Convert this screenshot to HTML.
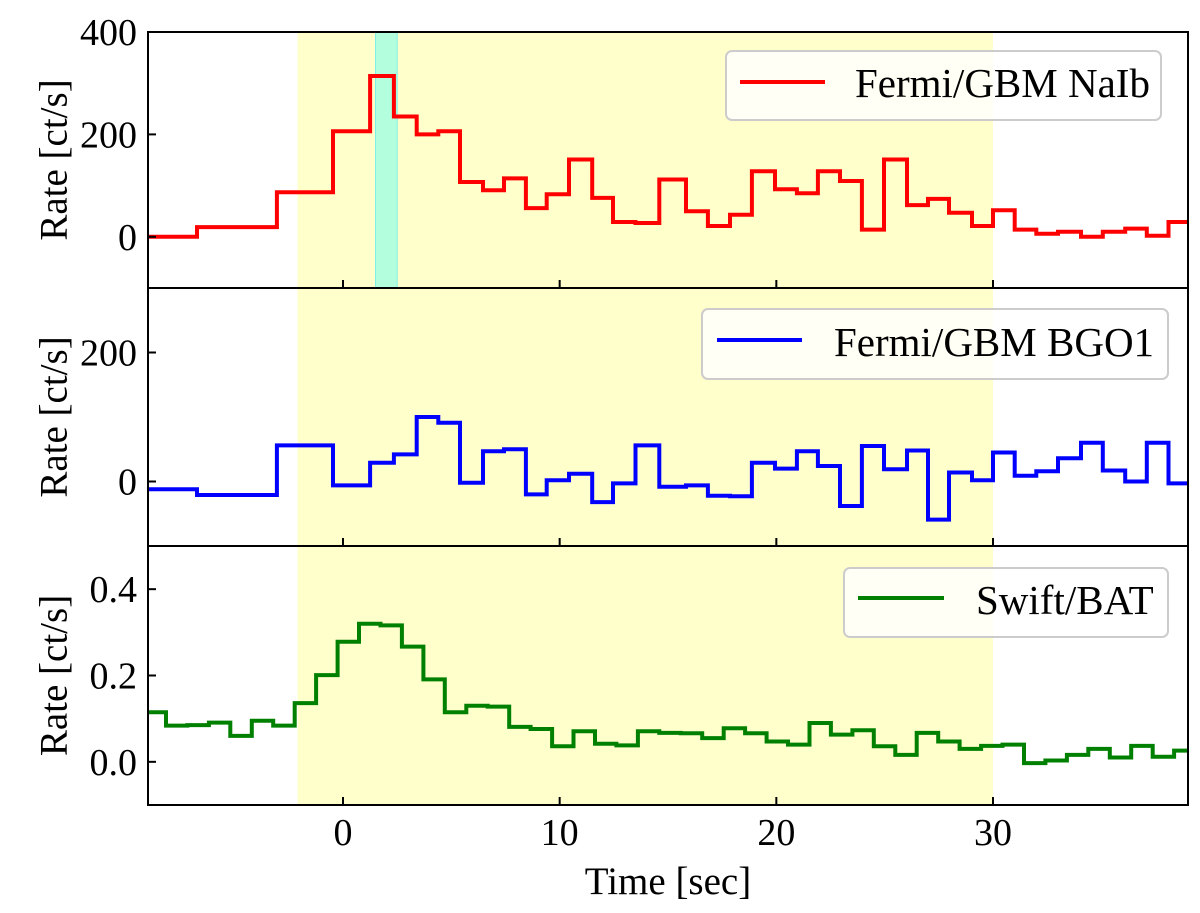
<!DOCTYPE html>
<html><head><meta charset="utf-8">
<style>
html,body{margin:0;padding:0;background:#fff;}
svg{display:block;font-family:"Liberation Serif","DejaVu Serif",serif;}
</style></head>
<body>
<svg id="chart" width="1200" height="913" viewBox="0 0 1200 913" xmlns="http://www.w3.org/2000/svg"></svg>
<script>
// ---- data ----
const gbmEdges = [-9,-6.74,-3.05,-0.46,1.25,2.35,3.4,4.4,5.4,6.46,7.43,8.44,9.4,10.43,11.5,12.46,13.5,14.6,15.83,16.84,17.86,18.87,19.94,20.95,21.92,22.94,23.95,24.97,26.03,27.0,27.97,29.03,30,31,32,33,34.06,35.07,36.1,37.1,38.1,39];
const naiRates = [0,19,87,206,314,235,200,206,107,91,114,56,83,151,76,29,27,112,50,21,43,128,93,85,128,109,14,151,62,74,47,21,52,14,6,10,0,10,16,2,29];
const bgoRates = [-12,-21,56,-6,29,42,100,91,-2,47,50,-20,2,12,-32,-3,56,-8,-6,-22,-23,29,20,47,24,-38,55,19,48,-59,14,2,45,9,16,36,60,17,0,60,-3];
const batEdges = [-9,-8.17,-7.18,-6.19,-5.2,-4.21,-3.22,-2.23,-1.24,-0.25,0.74,1.73,2.72,3.71,4.70,5.69,6.68,7.67,8.66,9.65,10.64,11.63,12.62,13.61,14.60,15.59,16.58,17.57,18.56,19.55,20.54,21.53,22.52,23.51,24.50,25.49,26.48,27.47,28.46,29.45,30.44,31.43,32.42,33.41,34.40,35.39,36.38,37.37,38.36,39];
const batRates = [0.115,0.084,0.085,0.091,0.060,0.095,0.084,0.136,0.201,0.278,0.320,0.316,0.267,0.191,0.115,0.130,0.128,0.081,0.076,0.036,0.071,0.042,0.038,0.071,0.067,0.066,0.055,0.078,0.066,0.047,0.040,0.090,0.063,0.073,0.036,0.016,0.067,0.047,0.030,0.037,0.040,-0.003,0.003,0.016,0.030,0.010,0.037,0.012,0.026];
const xTicks = [0,10,20,30];
const naiTicks = [0,200,400];
const bgoTicks = [0,200];
const batTicks = [0.0,0.2,0.4];
const batTickLabels = ["0.0","0.2","0.4"];
const yellowSpan = [-2.1,30];
const cyanSpan = [1.5,2.5];

// ---- layout ----
const svg = document.getElementById('chart');
const NS = 'http://www.w3.org/2000/svg';
const L = 148, R = 1188;
const xMin = -9, xMax = 39;
const X = t => L + (t - xMin) / (xMax - xMin) * (R - L);
const panels = [
  {top:32, bot:288, ymin:-100, ymax:400, edges:gbmEdges, vals:naiRates, color:'#ff0000', ticks:naiTicks, labels:naiTicks.map(String), name:'nai', legend:'Fermi/GBM NaIb', lg:{x:726,y:51,w:435,h:69,lx1:740,lx2:825,ly:82,tx:855,ty:95}},
  {top:288, bot:546, ymin:-100, ymax:300, edges:gbmEdges, vals:bgoRates, color:'#0000ff', ticks:bgoTicks, labels:bgoTicks.map(String), name:'bgo', legend:'Fermi/GBM BGO1', lg:{x:702,y:309,w:466,h:70,lx1:717,lx2:802,ly:340,tx:834,ty:354}},
  {top:546, bot:805, ymin:-0.1, ymax:0.5, edges:batEdges, vals:batRates, color:'#008000', ticks:batTicks, labels:batTickLabels, name:'bat', legend:'Swift/BAT', lg:{x:844,y:568,w:324,h:69,lx1:858,lx2:944,ly:598,tx:976,ty:612}}
];
function mk(tag, attrs, parent){const e=document.createElementNS(NS,tag);for(const k in attrs)e.setAttribute(k,attrs[k]);(parent||svg).appendChild(e);return e;}

panels.forEach((p,i)=>{
  const Y = v => p.bot - (v - p.ymin)/(p.ymax - p.ymin)*(p.bot - p.top);
  const g = mk('g',{});
  
  
  const ys = mk('rect',{x:X(yellowSpan[0]),y:p.top,width:X(yellowSpan[1])-X(yellowSpan[0]),height:p.bot-p.top,fill:'#ffffcc'},g);
  
  
  if(i===0){
    const cs = mk('rect',{x:X(cyanSpan[0]),y:p.top,width:X(cyanSpan[1])-X(cyanSpan[0]),height:p.bot-p.top,fill:'#b3ffdd',stroke:'#7ff0e8','stroke-width':1},g);
    
    
  }
  let d = '';
  p.vals.forEach((v,k)=>{
    const x0=X(p.edges[k]), x1=X(p.edges[k+1]), y=Y(v);
    d += (k===0?'M':'L') + x0.toFixed(1)+','+y.toFixed(1)+' L'+x1.toFixed(1)+','+y.toFixed(1)+' ';
  });
  const ln = mk('path',{d:d,fill:'none',stroke:p.color,'stroke-width':4,'stroke-linejoin':'miter'},g);
  
  
  p.ticks.forEach((t,k)=>{
    const y=Y(t);
    mk('line',{x1:L,x2:L+8,y1:y,y2:y,stroke:'#000','stroke-width':2},g);
    const tx = mk('text',{x:L-11,y:y+13,'text-anchor':'end','font-size':38,fill:'#000'},g);
    tx.textContent = p.labels[k];
    
    
  });
  xTicks.forEach(t=>{
    mk('line',{x1:X(t),x2:X(t),y1:p.bot,y2:p.bot-8,stroke:'#000','stroke-width':2},g);
  });
  const cy=(p.top+p.bot)/2;
  const yl = mk('text',{x:54,y:cy,'text-anchor':'middle','font-size':39,fill:'#000',transform:'rotate(-90 54 '+cy+')', 'dominant-baseline':'central'},g);
  yl.textContent='Rate [ct/s]';
  
  
  const fr = mk('rect',{x:L,y:p.top,width:R-L,height:p.bot-p.top,fill:'none',stroke:'#000','stroke-width':2},g);
  
  
  const lg = mk('g',{},g);
  
  
  mk('rect',{x:p.lg.x,y:p.lg.y,width:p.lg.w,height:p.lg.h,rx:6,fill:'#ffffff','fill-opacity':0.8,stroke:'#cccccc','stroke-width':2},lg);
  mk('line',{x1:p.lg.lx1,x2:p.lg.lx2,y1:p.lg.ly,y2:p.lg.ly,stroke:p.color,'stroke-width':4},lg);
  const lt = mk('text',{x:p.lg.tx,y:p.lg.ty+2,'font-size':41,fill:'#000'},lg);
  lt.textContent = p.legend;
  
  
});
xTicks.forEach(t=>{
  const tx = mk('text',{x:X(t),y:845,'text-anchor':'middle','font-size':38,fill:'#000'});
  tx.textContent = String(t);
  
  
});
const xt = mk('text',{x:668,y:894,'text-anchor':'middle','font-size':39,fill:'#000'});
xt.textContent='Time [sec]';


</script>
</body></html>
